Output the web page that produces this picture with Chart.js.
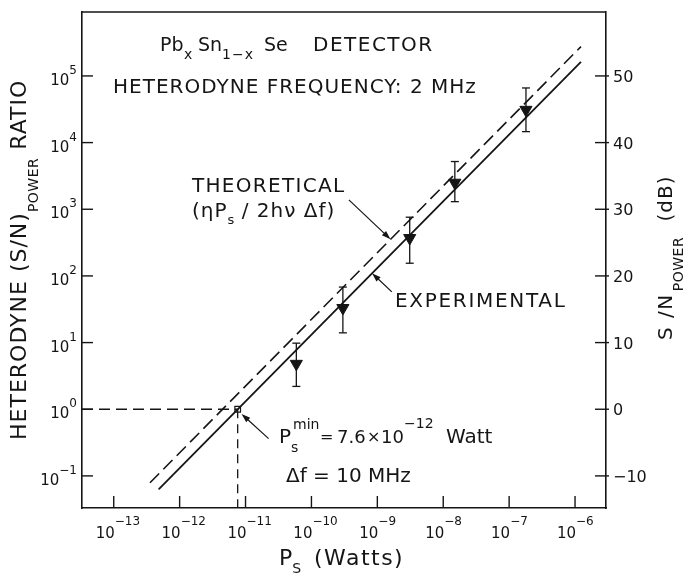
<!DOCTYPE html>
<html>
<head>
<meta charset="utf-8">
<script src="https://cdn.jsdelivr.net/npm/chart.js@4.4.1/dist/chart.umd.min.js"></script>
<style>
  html, body { margin: 0; padding: 0; background: #fff; }
  #wrap { width: 684px; height: 576px; position: relative; }
</style>
</head>
<body>
<div id="wrap"><canvas id="snrChart"></canvas></div>
<script>
// measured heterodyne S/N (power ratio) against signal power, with error bars
const psData   = [5.9e-11, 3.0e-10, 3.1e-9, 1.5e-8, 1.8e-7];
const snrData  = [4.8, 33, 370, 2500, 31000];
const snrLow   = [2.2, 14, 155, 1300, 14600];
const snrHigh  = [9.8, 68, 760, 5200, 66000];

// straight lines (slope 1 on log-log): end points
const expLineP    = [4.8e-13, 1.23e-6];
const expLineSnr  = [0.063, 1.62e5];
const theoLineP   = [3.55e-13, 1.23e-6];
const theoLineSnr = [0.079, 2.75e5];

// minimum detectable power, S/N = 1
const pMin = 7.6e-12;
const snrAtMin = 1;

// axis ranges and ticks
const xMin = 3.3e-14, xMax = 2.95e-6;
const yMin = 0.033, yMax = 9.1e5;
const xTickExps = [-13, -12, -11, -10, -9, -8, -7, -6];
const yTickExps = [-1, 0, 1, 2, 3, 4, 5];
const dbTicks = [-10, 0, 10, 20, 30, 40, 50];

// leader arrows: [tail, tip] in data units
const arrows = [
  [[3.7e-10, 1380], [1.585e-9, 355]],   // THEORETICAL
  [[1.66e-9, 57.5], [8.3e-10, 110]],    // EXPERIMENTAL
  [[2.24e-11, 0.363], [8.7e-12, 0.85]]  // P min
];

const ink = '#151515';
const FAM = '"DejaVu Sans", sans-serif';

function pts(xs, ys) { return xs.map((v, i) => ({ x: v, y: ys[i] })); }

// draw a run of text pieces (sub/superscripts via dy, absolute x via at)
function drawRun(ctx, x0, y0, parts) {
  let cx = x0;
  for (const p of parts) {
    if (p.at !== undefined) cx = p.at;
    cx += p.gap || 0;
    ctx.font = p.size + 'px ' + FAM;
    ctx.letterSpacing = (p.ls || 0) + 'px';
    ctx.fillText(p.t, cx, y0 + (p.dy || 0));
    cx += ctx.measureText(p.t).width;
  }
  ctx.letterSpacing = '0px';
  return cx;
}

function seg(ctx, x1, y1, x2, y2) {
  ctx.beginPath(); ctx.moveTo(x1, y1); ctx.lineTo(x2, y2); ctx.stroke();
}

const overlay = {
  id: 'overlay',
  afterDatasetsDraw(chart) {
    const { ctx, chartArea: a, scales } = chart;
    const sx = scales.x, sy = scales.y, sdb = scales.y2;
    ctx.save();
    ctx.strokeStyle = ink;
    ctx.fillStyle = ink;
    ctx.lineCap = 'butt';

    // top frame line
    ctx.lineWidth = 1.6;
    seg(ctx, a.left, a.top, a.right, a.top);

    // inward ticks
    ctx.lineWidth = 1.4;
    xTickExps.forEach(e => {
      const px = sx.getPixelForValue(10 ** e);
      seg(ctx, px, a.bottom, px, a.bottom - 12);
    });
    yTickExps.forEach(e => {
      const py = sy.getPixelForValue(10 ** e);
      seg(ctx, a.left, py, a.left + 11, py);
    });
    dbTicks.forEach(d => {
      const py = sdb.getPixelForValue(d);
      seg(ctx, a.right - 11, py, a.right + 3, py);
    });

    // tick labels
    ctx.textBaseline = 'alphabetic';
    xTickExps.forEach(e => {
      const px = sx.getPixelForValue(10 ** e);
      ctx.textAlign = 'right';
      ctx.font = '15px ' + FAM;
      ctx.fillText('10', px + 1, a.bottom + 30);
      ctx.textAlign = 'left';
      ctx.font = '12px ' + FAM;
      ctx.fillText(String(e).replace('-', '\u2212'), px + 1, a.bottom + 17);
    });
    yTickExps.forEach(e => {
      const py = sy.getPixelForValue(10 ** e);
      const et = String(e).replace('-', '\u2212');
      ctx.textAlign = 'right';
      ctx.font = '12px ' + FAM;
      ctx.fillText(et, a.left - 5, py - 2);
      const ew = ctx.measureText(et).width;
      ctx.font = '15px ' + FAM;
      ctx.fillText('10', a.left - 5 - ew, py + 9);
    });
    ctx.textAlign = 'left';
    ctx.font = '16px ' + FAM;
    dbTicks.forEach(d => {
      const py = sdb.getPixelForValue(d);
      ctx.fillText(String(d).replace('-', '\u2212'), a.right + 7, py + 6);
    });

    // error bars
    ctx.lineWidth = 1.3;
    psData.forEach((p, i) => {
      const px = sx.getPixelForValue(p);
      const top = sy.getPixelForValue(snrHigh[i]);
      const bot = sy.getPixelForValue(snrLow[i]);
      seg(ctx, px, top, px, bot);
      seg(ctx, px - 4, top, px + 4, top);
      seg(ctx, px - 4, bot, px + 4, bot);
    });

    // leader arrows
    ctx.lineWidth = 1.2;
    arrows.forEach(([tail, tip]) => {
      const x1 = sx.getPixelForValue(tail[0]), y1 = sy.getPixelForValue(tail[1]);
      const x2 = sx.getPixelForValue(tip[0]), y2 = sy.getPixelForValue(tip[1]);
      const ang = Math.atan2(y2 - y1, x2 - x1);
      seg(ctx, x1, y1, x2 - 6 * Math.cos(ang), y2 - 6 * Math.sin(ang));
      ctx.beginPath();
      ctx.moveTo(x2, y2);
      ctx.lineTo(x2 - 9 * Math.cos(ang) + 3 * Math.sin(ang), y2 - 9 * Math.sin(ang) - 3 * Math.cos(ang));
      ctx.lineTo(x2 - 9 * Math.cos(ang) - 3 * Math.sin(ang), y2 - 9 * Math.sin(ang) + 3 * Math.cos(ang));
      ctx.closePath();
      ctx.fill();
    });

    // labels inside the plot
    ctx.textAlign = 'left';
    drawRun(ctx, 160, 51, [
      { t: 'Pb', size: 19 },
      { t: 'x', size: 14, dy: 8, at: 184 },
      { t: 'Sn', size: 19, at: 198 },
      { t: '1\u2212x', size: 14, dy: 8, at: 222, ls: 1 },
      { t: 'Se', size: 19, at: 264 },
      { t: 'DETECTOR', size: 20, at: 313, ls: 1.5 }
    ]);
    drawRun(ctx, 113, 93, [{ t: 'HETERODYNE FREQUENCY: 2 MHz', size: 20, ls: 1 }]);
    drawRun(ctx, 192, 192, [{ t: 'THEORETICAL', size: 20, ls: 1.3 }]);
    drawRun(ctx, 192, 217, [
      { t: '(\u03b7P', size: 20, ls: 1 },
      { t: 's', size: 13, dy: 7 },
      { t: ' / 2h\u03bd \u0394f)', size: 20, ls: 1 }
    ]);
    drawRun(ctx, 395, 307, [{ t: 'EXPERIMENTAL', size: 20, ls: 1.7 }]);
    drawRun(ctx, 279, 443, [
      { t: 'P', size: 20 },
      { t: 's', size: 14, dy: 9, at: 291 },
      { t: 'min', size: 14, dy: -14, at: 293 },
      { t: '=', size: 16, dy: -1, at: 320 },
      { t: '7.6', size: 18, at: 337 },
      { t: '\u00d7', size: 16, dy: -1, at: 367 },
      { t: '10', size: 18, at: 381 },
      { t: '\u221212', size: 14, dy: -15, at: 404 },
      { t: 'Watt', size: 20, at: 446 }
    ]);
    drawRun(ctx, 286, 482, [{ t: '\u0394f = 10 MHz', size: 20 }]);

    // axis titles
    drawRun(ctx, 279, 565, [
      { t: 'P', size: 22 },
      { t: 'S', size: 14, dy: 8 },
      { t: '(Watts)', size: 22, at: 314, ls: 1.5 }
    ]);

    ctx.save();
    ctx.translate(26, 440);
    ctx.rotate(-Math.PI / 2);
    drawRun(ctx, 0, 0, [
      { t: 'HETERODYNE', size: 22, ls: 1 },
      { t: ' (S/N)', size: 22, ls: 1 },
      { t: 'POWER', size: 14, dy: 12, ls: 0.5 },
      { t: ' RATIO', size: 22, ls: 1 }
    ]);
    ctx.restore();

    ctx.save();
    ctx.translate(672, 340);
    ctx.rotate(-Math.PI / 2);
    drawRun(ctx, 0, 0, [
      { t: 'S /N', size: 20, ls: 1.5 },
      { t: 'POWER', size: 14, dy: 11, gap: 2, ls: 0.5 },
      { t: ' (dB)', size: 20, gap: 8, ls: 1 }
    ]);
    ctx.restore();

    ctx.restore();
  }
};

const lineBase = { showLine: true, pointRadius: 0, borderColor: ink, fill: false, yAxisID: 'y' };

new Chart(document.getElementById('snrChart'), {
  type: 'scatter',
  data: {
    datasets: [
      { ...lineBase, label: 'Experimental fit', data: pts(expLineP, expLineSnr), borderWidth: 1.8 },
      { ...lineBase, label: 'Theoretical', data: pts(theoLineP, theoLineSnr), borderWidth: 1.6, borderDash: [13, 6] },
      { ...lineBase, label: 'S/N = 1', data: [{ x: xMin, y: snrAtMin }, { x: pMin, y: snrAtMin }], borderWidth: 1.3, borderDash: [11, 6] },
      { ...lineBase, label: 'Pmin', data: [{ x: pMin, y: snrAtMin }, { x: pMin, y: yMin }], borderWidth: 1.3, borderDash: [9, 6] },
      {
        label: 'Measured', data: pts(psData, snrData), yAxisID: 'y',
        pointStyle: 'triangle', rotation: 180, pointRadius: 7,
        backgroundColor: ink, borderColor: ink, borderWidth: 1
      },
      {
        label: 'Minimum', data: [{ x: pMin, y: snrAtMin }], yAxisID: 'y',
        pointStyle: 'rect', pointRadius: 4,
        backgroundColor: '#fff', borderColor: ink, borderWidth: 1.2
      }
    ]
  },
  options: {
    responsive: true,
    maintainAspectRatio: false,
    animation: false,
    events: [],
    layout: { padding: { top: 12, left: 0, right: 0, bottom: 0 } },
    scales: {
      x: {
        type: 'logarithmic', min: xMin, max: xMax,
        grid: { display: false, drawTicks: false },
        ticks: { display: false },
        border: { display: true, color: ink, width: 1.6 },
        afterFit: s => { s.height = 68; }
      },
      y: {
        type: 'logarithmic', position: 'left', min: yMin, max: yMax,
        grid: { display: false, drawTicks: false },
        ticks: { display: false },
        border: { display: true, color: ink, width: 1.6 },
        afterFit: s => { s.width = 82; }
      },
      y2: {
        type: 'linear', position: 'right',
        min: 10 * Math.log10(yMin), max: 10 * Math.log10(yMax),
        grid: { display: false, drawTicks: false },
        ticks: { display: false },
        border: { display: true, color: ink, width: 1.6 },
        afterFit: s => { s.width = 78; }
      }
    },
    plugins: { legend: { display: false }, tooltip: { enabled: false } }
  },
  plugins: [overlay]
});
</script>
</body>
</html>
